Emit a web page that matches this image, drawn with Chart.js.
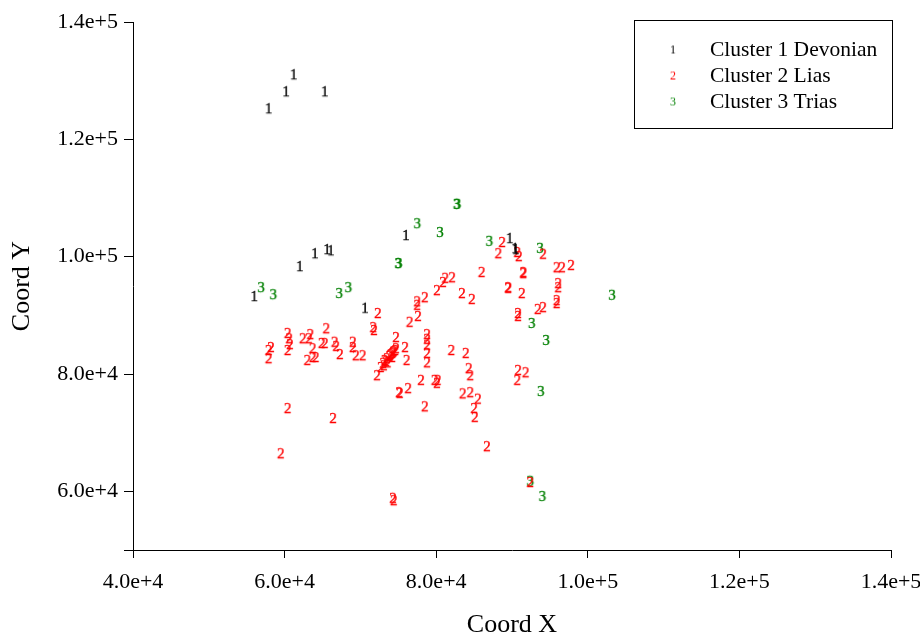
<!DOCTYPE html>
<html>
<head>
<meta charset="utf-8">
<script src="https://cdn.jsdelivr.net/npm/chart.js@4/dist/chart.umd.min.js"></script>
<style>
  html, body { margin: 0; padding: 0; background: #ffffff; }
  #wrap { width: 920px; height: 635px; }
</style>
</head>
<body>
<div id="wrap"><canvas id="c" width="920" height="635"></canvas></div>
<script>
// Cluster names, symbols and colours
const clusterNames = ['Cluster 1 Devonian', 'Cluster 2 Lias', 'Cluster 3 Trias'];
const clusterSymbols = ['1', '2', '3'];
const clusterColors = ['#000000', '#ff0000', '#008000'];

// Cluster 1 (Devonian) coordinates
const devonianX = [61200, 60200, 65300, 57900, 56000, 62000, 64000, 65600, 66100, 76000, 89700, 90400, 90500, 70600];
const devonianY = [131100, 128200, 128200, 125300, 93300, 98400, 100600, 101300, 101100, 103700, 103200, 101500, 101300, 91300];

// Cluster 2 (Lias) coordinates
const liasX = [
  88700, 88200, 90700, 90900, 94100, 95900, 96600, 97800, 86000, 91500,
  91500, 81200, 82100, 80900, 80100, 83400, 84700, 89500, 89500, 91300,
  96100, 96100, 95900, 95900, 94100, 93400, 90800, 90800, 78500, 77500,
  77500, 77600, 76500,
  72300, 71700, 71800, 65500, 74700, 78800, 78800, 78800, 75900, 76100,
  78800, 78800, 82000, 83900, 84300, 84500, 90800, 90700, 91800, 78000,
  79800, 80200, 80100, 76300, 75100, 75200, 83500, 84500, 85500, 85000,
  85100, 78500, 86700,
  60400, 60600, 60700, 60400, 62400, 63400, 63200, 64900, 65300, 66600,
  66800, 67300, 69000, 69000, 69400, 70300, 58200, 57900, 57900, 63700,
  63000, 63700, 64100, 60400, 66400, 59500, 74300, 74400,
  72700, 73000, 73200, 73500, 73800, 74000, 74300, 74600, 74700, 73600,
  74200, 72200, 92400, 73100, 73400, 73900, 74200, 74400
];
const liasY = [
  102500, 100600, 100800, 100100, 100500, 98200, 98200, 98600, 97400, 97400,
  97200, 96400, 96500, 95700, 94300, 93800, 92800, 94800, 94700, 93800,
  95500, 94800, 92600, 92100, 91400, 91100, 90400, 89900, 93100, 92400,
  91800, 89900, 88900,
  90400, 88000, 87500, 87800, 86300, 86800, 86000, 85000, 84600, 82400,
  83600, 82000, 84100, 83600, 81000, 79800, 80700, 79000, 80300, 79000,
  79000, 79000, 78500, 77600, 76900, 76800, 76700, 76900, 75800, 74200,
  72700, 74500, 67700,
  87000, 86100, 85100, 84100, 86100, 86800, 86100, 85300, 85300, 85500,
  84800, 83400, 85500, 84600, 83200, 83200, 84600, 84100, 82700, 84400,
  82400, 82900, 82900, 74200, 72500, 66500, 58900, 58500,
  81200, 81900, 82400, 82700, 83100, 83400, 83800, 84100, 84400, 82000,
  82900, 79800, 61600, 81500, 82200, 83200, 83600, 83900
];

// Cluster 3 (Trias) coordinates
const triasX = [82700, 82800, 77500, 80500, 87000, 93700, 75000, 75050, 56900, 58500, 67200, 68400, 103200, 92600, 94500, 93800, 92400, 94000];
const triasY = [109000, 109000, 105700, 104200, 102700, 101500, 98900, 98900, 94800, 93600, 93800, 94800, 93500, 88700, 85800, 77100, 61800, 59200];

// Axis ticks
const xTicks = [40000, 60000, 80000, 100000, 120000, 140000];
const yTicks = [50000, 60000, 80000, 100000, 120000, 140000];
const yUnlabelled = [50000];

const SERIF = '"Liberation Serif", "Times New Roman", serif';

// Small canvas holding one digit, used as the point marker
function glyph(ch, color, size, stroke) {
  const c = document.createElement('canvas');
  c.width = Math.ceil(size * 0.8);
  c.height = Math.ceil(size * 1.2);
  const g = c.getContext('2d');
  g.font = size + 'px ' + SERIF;
  g.fillStyle = color;
  g.strokeStyle = color;
  g.lineWidth = stroke;
  g.textAlign = 'center';
  g.textBaseline = 'middle';
  g.fillText(ch, c.width / 2, c.height / 2 + 1);
  if (stroke > 0) g.strokeText(ch, c.width / 2, c.height / 2 + 1);
  return c;
}

function pairs(xs, ys) {
  return xs.map((x, i) => ({ x: x, y: ys[i] }));
}

const seriesX = [devonianX, liasX, triasX];
const seriesY = [devonianY, liasY, triasY];

const datasets = clusterNames.map((name, i) => ({
  label: name,
  data: pairs(seriesX[i], seriesY[i]),
  pointStyle: glyph(clusterSymbols[i], clusterColors[i], 15, 0.35),
  pointRadius: 6,
  showLine: false
}));

const legendMarks = clusterSymbols.map((s, i) => glyph(s, clusterColors[i], 12, 0));

// Boxed legend in the upper right corner of the plot
const boxedLegend = {
  id: 'boxedLegend',
  afterDraw(chart) {
    const ctx = chart.ctx;
    const area = chart.chartArea;
    const w = 258, h = 108;
    const left = Math.round(area.right) - w + 1;
    const top = Math.round(area.top) - 2;
    ctx.save();
    ctx.fillStyle = '#ffffff';
    ctx.fillRect(left, top, w, h);
    ctx.strokeStyle = '#000000';
    ctx.lineWidth = 1;
    ctx.strokeRect(left + 0.5, top + 0.5, w, h);
    ctx.font = '21.5px ' + SERIF;
    ctx.textAlign = 'left';
    ctx.textBaseline = 'middle';
    ctx.fillStyle = '#000000';
    chart.data.datasets.forEach((ds, i) => {
      const cy = top + 29 + i * 26;
      const m = legendMarks[i];
      ctx.drawImage(m, left + 39 - m.width / 2, cy - m.height / 2);
      ctx.fillText(ds.label, left + 76, cy + 1);
    });
    ctx.restore();
  }
};

const fmt = v => Number(v).toExponential(1);

new Chart(document.getElementById('c'), {
  type: 'scatter',
  data: { datasets: datasets },
  plugins: [boxedLegend],
  options: {
    responsive: false,
    animation: false,
    events: [],
    layout: { padding: { left: 0, right: 29, top: 22, bottom: 0 } },
    plugins: {
      legend: { display: false },
      tooltip: { enabled: false }
    },
    scales: {
      x: {
        type: 'linear',
        min: 40000,
        max: 140000,
        afterBuildTicks: axis => { axis.ticks = xTicks.map(v => ({ value: v })); },
        afterFit: axis => {
          axis.height = 85;
          axis.paddingLeft = 0; axis.paddingRight = 0;
        },
        grid: { drawOnChartArea: false, drawTicks: true, tickLength: 8, color: '#000000', lineWidth: 1 },
        border: { display: true, color: '#000000', width: 1 },
        ticks: {
          color: '#000000',
          font: { family: SERIF, size: 22 },
          padding: 11,
          maxRotation: 0,
          autoSkip: false,
          callback: v => fmt(v)
        },
        title: {
          display: true,
          text: 'Coord X',
          color: '#000000',
          font: { family: SERIF, size: 26 },
          padding: { top: 0, bottom: -6 }
        }
      },
      y: {
        type: 'linear',
        min: 50000,
        max: 140000,
        afterBuildTicks: axis => { axis.ticks = yTicks.map(v => ({ value: v })); },
        afterFit: axis => {
          axis.width = 133;
          axis.paddingTop = 0; axis.paddingBottom = 0;
        },
        grid: { drawOnChartArea: false, drawTicks: true, tickLength: 9, color: '#000000', lineWidth: 1 },
        border: { display: true, color: '#000000', width: 1 },
        ticks: {
          color: '#000000',
          font: { family: SERIF, size: 22 },
          padding: 6,
          autoSkip: false,
          callback: v => (yUnlabelled.includes(v) ? '' : fmt(v))
        },
        title: {
          display: true,
          text: 'Coord Y',
          color: '#000000',
          font: { family: SERIF, size: 26 },
          padding: { top: 7, bottom: 0 }
        }
      }
    }
  }
});
</script>
</body>
</html>
